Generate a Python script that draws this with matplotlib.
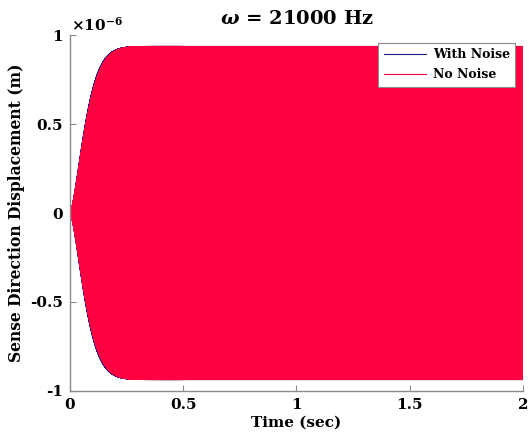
import numpy as np
import matplotlib
matplotlib.use("Agg")
import matplotlib.pyplot as plt
from matplotlib.ticker import FuncFormatter

# Drive / response parameters
freq_hz = 21000.0            # drive frequency
duration_s = 2.0             # simulated time span
steady_amp_m = 0.935e-6      # steady-state sense amplitude
rise_tau_clean_s = 0.085     # envelope rise time, noiseless run
rise_tau_noisy_s = 0.082     # envelope rise time, run with noise
rise_shape = 1.5             # envelope build-up exponent

x_ticks = [0, 0.5, 1, 1.5, 2]
y_ticks = [-1e-6, -0.5e-6, 0, 0.5e-6, 1e-6]


def response(t, tau):
    env = steady_amp_m * (1 - np.exp(-(t / tau) ** rise_shape))
    return env * np.sin(2 * np.pi * freq_hz * t)


# Sample the oscillation at its peaks so the trace zig-zags between +/- envelope
n = int(2 * freq_hz * duration_s)
t = (np.arange(n) + 0.5) / (2 * freq_hz)
y_noisy = response(t, rise_tau_noisy_s)
y_clean = response(t, rise_tau_clean_s)

plt.rcParams['font.family'] = ['DejaVu Serif']
plt.rcParams['font.weight'] = 'bold'
plt.rcParams['mathtext.fontset'] = 'dejavuserif'

fig = plt.figure(figsize=(5.32, 4.41), dpi=100)
ax = fig.add_axes([0.1316, 0.1134, 0.8514, 0.8072])

ax.plot(t, y_noisy, color='#1a1a80', lw=1.0, label='With Noise')
ax.plot(t, y_clean, color='#ff0040', lw=1.0, label='No Noise')

ax.set_xlim(0, 2)
ax.set_ylim(-1e-6, 1e-6)
ax.set_xticks(x_ticks)
ax.set_yticks(y_ticks)
ax.xaxis.set_major_formatter(FuncFormatter(lambda v, p: '%g' % v))
ax.yaxis.set_major_formatter(FuncFormatter(lambda v, p: '%g' % round(v * 1e6, 3)))

for s in ['top', 'right']:
    ax.spines[s].set_visible(False)
for s in ['left', 'bottom']:
    ax.spines[s].set_color('#8c8c8c')
    ax.spines[s].set_linewidth(1.0)
ax.tick_params(direction='in', length=4, color='#8c8c8c', labelsize=11,
               labelcolor='black', pad=5)
for lab in ax.get_xticklabels() + ax.get_yticklabels():
    lab.set_fontweight('bold')

ax.text(0.002, 1.004, r'$\times$10$^{\mathbf{-6}}$', transform=ax.transAxes,
        fontsize=11, fontweight='bold', ha='left', va='bottom')

ax.set_title(r'$\mathit{\omega}$ = 21000 Hz', fontsize=14, fontweight='bold', pad=8)
ax.set_xlabel('Time (sec)', fontsize=11, fontweight='bold', labelpad=3)
ax.set_ylabel('Sense Direction Displacement (m)', fontsize=11.2, fontweight='bold',
              labelpad=4)

leg = ax.legend(loc='upper right', fontsize=9, frameon=True, fancybox=False,
                framealpha=1, facecolor='white',
                borderpad=0.45, handlelength=3.4, handletextpad=0.5,
                labelspacing=0.55, borderaxespad=0.6)
leg.get_frame().set_edgecolor('#8c8c8c')
leg.get_frame().set_linewidth(0.8)
for line in leg.get_lines():
    line.set_linewidth(0.8)
for txt in leg.get_texts():
    txt.set_fontweight('bold')

fig.savefig('out.png', dpi=100)
